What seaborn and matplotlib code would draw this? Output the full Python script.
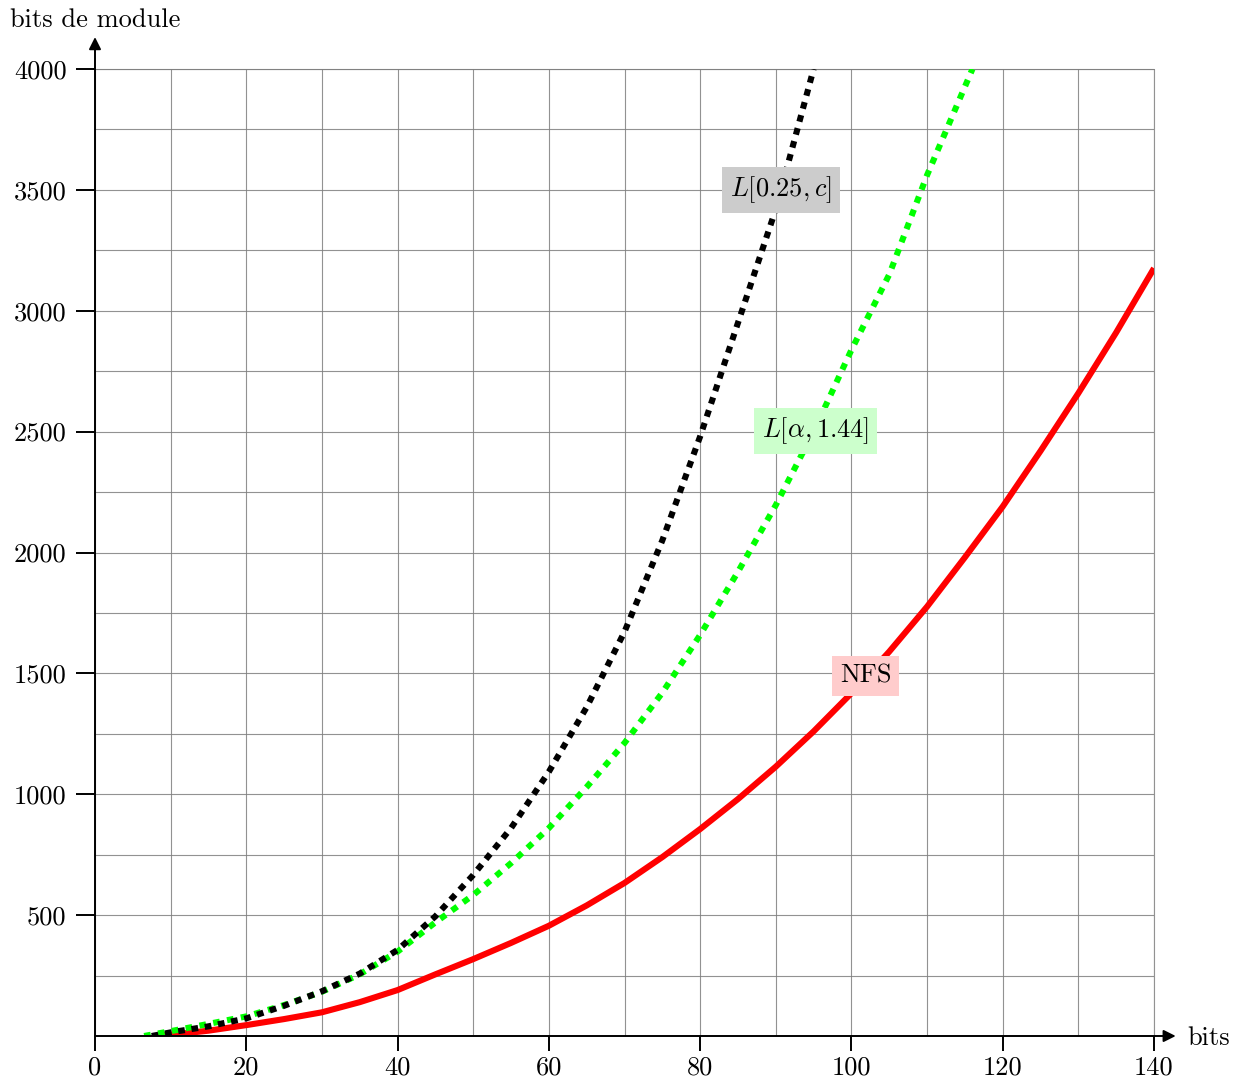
import matplotlib
matplotlib.use("Agg")
import matplotlib.pyplot as plt
import seaborn as sns
import numpy as np
import pandas as pd

# ---- data ----
black_x = [7.5, 10, 15, 20, 25, 30, 35, 40, 45, 50, 55, 60, 65, 70, 75, 80, 85, 90, 95]
black_y = [0, 15, 40, 73, 125, 185, 258, 356, 495, 666, 860, 1093, 1360, 1672, 2050, 2480, 2950, 3420, 4000]

green_x = [6.5, 10, 15, 20, 25, 30, 35, 40, 45, 50, 55, 60, 65, 70, 75, 80, 85, 90, 95, 100, 105, 110, 116]
green_y = [0, 20, 50, 81, 128, 183, 255, 349, 470, 583, 715, 860, 1030, 1212, 1420, 1659, 1920, 2196, 2500, 2838, 3150, 3561, 4000]

red_x = [8, 10, 15, 20, 25, 30, 35, 40, 45, 50, 55, 60, 65, 70, 75, 80, 85, 90, 95, 100,
         105, 110, 115, 120, 125, 130, 135, 140]
red_y = [0, 5, 22, 45, 70, 98, 140, 190, 255, 318, 385, 456, 540, 633, 740, 856, 980, 1114, 1260, 1418,
         1590, 1776, 1980, 2190, 2420, 2659, 2910, 3176]

x_ticks = [0, 20, 40, 60, 80, 100, 120, 140]
y_ticks = [500, 1000, 1500, 2000, 2500, 3000, 3500, 4000]
x_label = "bits"
y_label = "bits de module"
label_texts = [r"$L[0.25, c]$", r"$L[\alpha, 1.44]$", "NFS"]
label_pos_x = [90.7, 95.2, 101.9]
label_pos_y = [3500, 2503, 1489]

sns.set_theme(style="white")
plt.rcParams["font.family"] = ["cmr10", "DejaVu Serif"]
plt.rcParams["mathtext.fontset"] = "cm"
plt.rcParams["axes.formatter.use_mathtext"] = True
plt.rcParams["text.color"] = "black"
plt.rcParams["xtick.color"] = "black"
plt.rcParams["ytick.color"] = "black"
plt.rcParams["xtick.labelcolor"] = "black"
plt.rcParams["ytick.labelcolor"] = "black"

FS = 19

fig = plt.figure(figsize=(12.42, 10.85), dpi=100)
ax = fig.add_axes([95 / 1242, 1 - 1036 / 1085, 1059 / 1242, 967 / 1085])
ax.set_facecolor("white")

lw = 4.4
sns.lineplot(x=red_x, y=red_y, ax=ax, color="#ff0000", linewidth=lw, estimator=None,
             sort=False, solid_capstyle="butt", solid_joinstyle="round", zorder=3)
sns.lineplot(x=green_x, y=green_y, ax=ax, color="#00ff00", linewidth=lw, estimator=None,
             sort=False, linestyle=(0, (1.1, 1.2)), dash_capstyle="butt", zorder=3)
sns.lineplot(x=black_x, y=black_y, ax=ax, color="black", linewidth=lw, estimator=None,
             sort=False, linestyle=(0, (1.1, 1.1)), dash_capstyle="butt", zorder=4)

ax.set_xlim(0, 140)
ax.set_ylim(0, 4000)

# grid
ax.set_xticks(np.arange(0, 141, 10), minor=True)
ax.set_yticks(np.arange(0, 4001, 250), minor=True)
ax.set_xticks(x_ticks)
ax.set_xticklabels([str(v) for v in x_ticks])
ax.set_yticks(y_ticks)
ax.set_yticklabels([str(v) for v in y_ticks])
ax.grid(which="both", color="#7f7f7f", linewidth=0.8, alpha=0.85)
ax.set_axisbelow(True)
ax.axvline(140, color="#7f7f7f", linewidth=0.8, alpha=0.85, clip_on=False, zorder=0.5)
ax.axhline(4000, color="#7f7f7f", linewidth=0.8, alpha=0.85, clip_on=False, zorder=0.5)

ax.tick_params(axis="both", which="major", labelsize=FS, width=1.4, color="black",
               direction="out", bottom=True, left=True, top=False, right=False)
ax.tick_params(axis="x", which="major", length=10.5, pad=4)
ax.tick_params(axis="y", which="major", length=13.5, pad=7)
ax.tick_params(which="minor", length=0, bottom=False, left=False)
ax.set_xlabel("")
ax.set_ylabel("")

for s in ax.spines.values():
    s.set_visible(False)

# axis lines with arrows
ax.annotate("", xy=(1.0205, 0), xytext=(0, 0), xycoords="axes fraction",
            arrowprops=dict(arrowstyle="-|>", color="black", lw=1.4, mutation_scale=18,
                            shrinkA=0, shrinkB=0), annotation_clip=False)
ax.annotate("", xy=(0, 1.033), xytext=(0, 0), xycoords="axes fraction",
            arrowprops=dict(arrowstyle="-|>", color="black", lw=1.4, mutation_scale=18,
                            shrinkA=0, shrinkB=0), annotation_clip=False)

fig.text(10 / 1242, 1 - 20 / 1085, y_label, fontsize=FS, ha="left", va="center", color="black")
fig.text(1187 / 1242, 1 - 1038 / 1085, x_label, fontsize=FS, ha="left", va="center", color="black")

box_colors = ["#cccccc", "#ccffcc", "#ffcccc"]
for t, xx, yy, c in zip(label_texts, label_pos_x, label_pos_y, box_colors):
    ax.text(xx, yy, t, fontsize=FS, ha="center", va="center", zorder=6, color="black",
            bbox=dict(boxstyle="square,pad=0.3", facecolor=c, edgecolor="none"))

fig.savefig("out.png", dpi=100, facecolor="white")
